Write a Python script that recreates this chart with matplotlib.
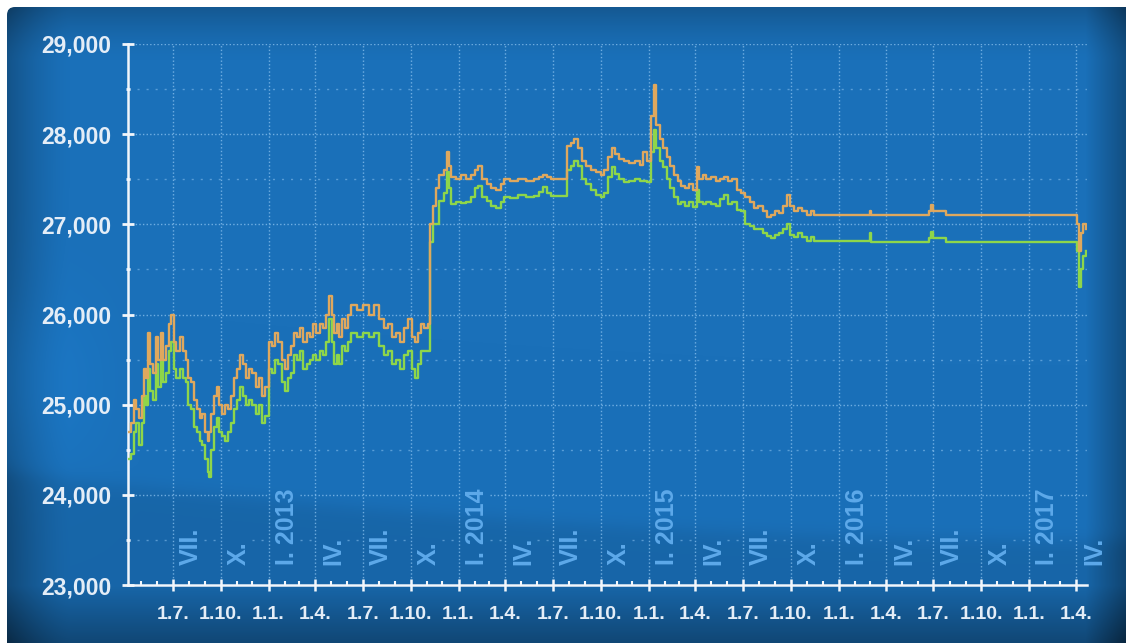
import numpy as np
import pandas as pd
import matplotlib
matplotlib.use("Agg")
import matplotlib.pyplot as plt
import matplotlib.dates as mdates
from matplotlib.patches import FancyBboxPatch
from matplotlib.ticker import MultipleLocator, FuncFormatter, FixedLocator
from matplotlib.transforms import offset_copy

# kurz prodej / nakup (dny kdy se kurz menil)
dates = [
    "2012-04-06", "2012-04-12", "2012-04-17", "2012-04-22", "2012-04-27",
    "2012-05-02", "2012-05-07", "2012-05-11", "2012-05-15", "2012-05-19",
    "2012-05-24", "2012-05-29", "2012-06-03", "2012-06-08", "2012-06-13",
    "2012-06-18", "2012-06-23", "2012-06-28", "2012-07-03", "2012-07-08",
    "2012-07-14", "2012-07-20", "2012-07-26", "2012-07-31", "2012-08-05",
    "2012-08-10", "2012-08-16", "2012-08-22", "2012-08-27", "2012-09-01",
    "2012-09-06", "2012-09-09", "2012-09-13", "2012-09-18", "2012-09-23",
    "2012-09-28", "2012-10-03", "2012-10-09", "2012-10-15", "2012-10-21",
    "2012-10-27", "2012-11-02", "2012-11-07", "2012-11-13", "2012-11-19",
    "2012-11-25", "2012-12-01", "2012-12-07", "2012-12-13", "2012-12-19",
    "2012-12-25",
    "2013-01-02", "2013-01-08", "2013-01-14", "2013-01-20", "2013-01-26",
    "2013-02-01", "2013-02-07", "2013-02-13", "2013-02-19", "2013-02-25",
    "2013-03-03", "2013-03-09", "2013-03-15", "2013-03-21", "2013-03-27",
    "2013-04-03", "2013-04-09", "2013-04-15", "2013-04-21", "2013-04-27",
    "2013-05-02", "2013-05-07", "2013-05-12", "2013-05-17", "2013-05-22",
    "2013-05-28", "2013-06-03", "2013-06-09", "2013-06-20", "2013-07-01",
    "2013-07-12", "2013-07-22", "2013-08-02", "2013-08-10", "2013-08-18",
    "2013-08-26", "2013-09-03", "2013-09-11", "2013-09-19", "2013-09-26",
    "2013-10-03", "2013-10-09", "2013-10-15", "2013-10-21", "2013-10-27",
    "2013-11-04", "2013-11-07", "2013-11-08", "2013-11-12", "2013-11-18",
    "2013-11-25", "2013-12-03", "2013-12-09", "2013-12-13", "2013-12-18",
    "2013-12-27",
    "2014-01-06", "2014-01-15", "2014-01-24", "2014-02-01", "2014-02-08",
    "2014-02-15", "2014-02-24", "2014-03-05", "2014-03-14", "2014-03-23",
    "2014-03-30", "2014-04-10", "2014-04-25", "2014-05-10", "2014-05-25",
    "2014-06-05", "2014-06-12", "2014-06-20", "2014-06-28", "2014-07-28",
    "2014-08-04", "2014-08-11", "2014-08-18", "2014-08-26", "2014-09-03",
    "2014-09-12", "2014-09-22", "2014-10-01", "2014-10-08", "2014-10-15",
    "2014-10-22", "2014-10-29", "2014-11-06", "2014-11-15", "2014-11-25",
    "2014-12-05", "2014-12-15", "2014-12-22", "2014-12-29",
    "2015-01-06", "2015-01-12", "2015-01-16", "2015-01-22", "2015-01-29",
    "2015-02-05", "2015-02-12", "2015-02-19", "2015-02-26", "2015-03-05",
    "2015-03-12", "2015-03-19", "2015-03-27", "2015-04-03", "2015-04-08",
    "2015-04-15", "2015-04-22", "2015-05-01", "2015-05-10", "2015-05-18",
    "2015-05-26", "2015-06-03", "2015-06-11", "2015-06-20", "2015-06-28",
    "2015-07-06", "2015-07-14", "2015-07-22", "2015-07-30", "2015-08-08",
    "2015-08-16", "2015-08-24", "2015-09-01", "2015-09-09", "2015-09-17",
    "2015-09-24", "2015-09-29", "2015-10-07", "2015-10-15", "2015-10-23",
    "2015-11-01", "2015-11-08", "2015-11-15",
    "2016-03-01", "2016-03-04", "2016-06-23", "2016-06-26", "2016-07-01",
    "2016-07-25",
    "2017-04-03", "2017-04-06", "2017-04-10", "2017-04-14", "2017-04-20",
]

sell = [
    24700, 24800, 25050, 24950, 24850,
    25100, 25400, 25300, 25800, 25450,
    25350, 25750, 25500, 25800, 25500,
    25650, 25900, 26000, 25700, 25600,
    25750, 25600, 25500, 25300, 25250,
    25050, 24950, 24850, 24900, 24700,
    24600, 24700, 24900, 25100, 25200,
    25000, 24900, 25000, 24950, 25100,
    25300, 25400, 25550, 25450, 25300,
    25400, 25350, 25200, 25300, 25100,
    25200,
    25700, 25650, 25800, 25700, 25500,
    25400, 25550, 25650, 25800, 25750,
    25850, 25700, 25800, 25750, 25900,
    25800, 25900, 25850, 26000, 26200,
    26000, 25800, 25900, 25750, 25950,
    25850, 26000, 26100, 26050, 26100,
    26000, 26100, 25950, 25850, 25900,
    25750, 25800, 25700, 25850, 25950,
    25750, 25700, 25800, 25900, 25850,
    25900, 26600, 27000, 27200, 27400,
    27550, 27600, 27800, 27650, 27530,
    27500,
    27550, 27500, 27550, 27600, 27650,
    27500, 27450, 27400, 27380, 27450,
    27500, 27480, 27500, 27480, 27500,
    27530, 27550, 27520, 27500, 27870,
    27900, 27950, 27850, 27700, 27650,
    27600, 27580, 27550, 27600, 27750,
    27850, 27780, 27720, 27700, 27680,
    27700, 27660, 27800, 27700,
    28200, 28550, 28100, 27950, 27850,
    27750, 27650, 27550, 27480, 27420,
    27400, 27450, 27380, 27640, 27500,
    27550, 27500, 27520, 27480, 27500,
    27520, 27480, 27500, 27380, 27350,
    27300, 27250, 27180, 27200, 27150,
    27080, 27100, 27150, 27130, 27200,
    27320, 27200, 27150, 27180, 27150,
    27100, 27150, 27100,
    27150, 27100, 27150, 27210, 27150,
    27100,
    27000, 26700, 26900, 27000, 26950,
]

buy = [
    24400, 24450, 24700, 24800, 24550,
    24800, 25100, 25000, 25400, 25150,
    25050, 25450, 25200, 25500, 25250,
    25350, 25600, 25700, 25400, 25300,
    25400, 25300, 25250, 25000, 24950,
    24750, 24700, 24600, 24550, 24400,
    24250, 24200, 24500, 24750, 24850,
    24700, 24650, 24600, 24700, 24800,
    24950, 25050, 25200, 25100, 25000,
    25050, 25000, 24900, 25000, 24800,
    24870,
    25400, 25350, 25500, 25450, 25250,
    25150, 25300, 25350, 25550, 25500,
    25600, 25400, 25450, 25500, 25550,
    25500, 25600, 25550, 25700, 25950,
    25700, 25450, 25550, 25450, 25650,
    25600, 25700, 25800, 25750, 25800,
    25750, 25800, 25650, 25550, 25600,
    25450, 25500, 25400, 25550, 25600,
    25400, 25300, 25450, 25600, 25600,
    25600, 26300, 26800, 27000, 27000,
    27260, 27350, 27580, 27400, 27220,
    27250,
    27240, 27250, 27300, 27400, 27420,
    27300, 27260, 27200, 27180, 27250,
    27300, 27290, 27320, 27300, 27310,
    27360, 27410, 27350, 27310, 27600,
    27650, 27700, 27650, 27500, 27450,
    27380, 27330, 27300, 27350, 27520,
    27640, 27560, 27500, 27470, 27480,
    27500, 27480, 27480, 27470,
    27800, 28050, 27850, 27700, 27640,
    27500, 27400, 27300, 27220, 27250,
    27200, 27250, 27190, 27380, 27250,
    27220, 27250, 27230, 27200, 27280,
    27320, 27230, 27250, 27160, 27150,
    27000, 26980, 26950, 26950, 26900,
    26870, 26850, 26880, 26900, 26950,
    27000, 26880, 26860, 26900, 26860,
    26810, 26860, 26810,
    26900, 26800, 26850, 26910, 26850,
    26800,
    26700, 26300, 26500, 26650, 26700,
]

quarter_names = ["VII.", "X.", "I. 2013", "IV.", "VII.", "X.", "I. 2014", "IV.",
                 "VII.", "X.", "I. 2015", "IV.", "VII.", "X.", "I. 2016", "IV.",
                 "VII.", "X.", "I. 2017", "IV."]
quarter_ticks = ["1.7.", "1.10.", "1.1.", "1.4."] * 5

W, H, DPI = 1126, 643, 100

# pozadi: modry gradient se ztmavenymi okraji a svetlejsim pasem
yy, xx = np.mgrid[0:H, 0:W].astype(float)
base = np.array([0x1a, 0x70, 0xb9]) / 255.0
shade = np.ones((H, W))
shade -= 0.30 * np.clip((70 - xx) / 70, 0, 1) ** 1.5
shade -= 0.30 * np.clip((xx - 1085) / 41, 0, 1)
shade -= 0.25 * np.clip((60 - yy) / 60, 0, 1) ** 1.5
shade -= 0.28 * np.clip((yy - 585) / 58, 0, 1)
curve = 470 + 70 * (1 - (1 - xx / W) ** 2)
shade -= 0.09 / (1 + np.exp(-(yy - curve) / 5))
shade += 0.10 * np.exp(-((yy - 380) / 90) ** 2) * np.clip((140 - xx) / 140, 0, 1)
img = np.clip(base[None, None, :] * shade[:, :, None], 0, 1)

fig = plt.figure(figsize=(W / DPI, H / DPI), dpi=DPI, facecolor="white")
bg = fig.add_axes([0, 0, 1, 1])
bg.set_xlim(0, W)
bg.set_ylim(H, 0)
bg.axis("off")
panel = FancyBboxPatch((7, 7), W + 20, H + 20, boxstyle="round,pad=0,rounding_size=8",
                       transform=bg.transData, facecolor="none", edgecolor="none")
bg.add_patch(panel)
im = bg.imshow(img, extent=[0, W, H, 0], aspect="auto", interpolation="bilinear")
im.set_clip_path(panel)

ax = fig.add_axes([128 / W, 1 - 585 / H, (1087 - 128) / W, (585 - 44) / H])
ax.set_facecolor("none")

x = pd.to_datetime(dates)
ax.step(x, buy, where="post", color="#8ed64a", lw=1.7, zorder=3)
ax.step(x, sell, where="post", color="#dfa85e", lw=1.7, zorder=4)

x0, x1 = pd.Timestamp("2012-04-06"), pd.Timestamp("2017-04-22")
ax.set_xlim(x0, x1)
ax.set_ylim(23000, 29000)

grid_col = "#8cc3f0"
ax.yaxis.set_major_locator(MultipleLocator(1000))
ax.yaxis.set_minor_locator(MultipleLocator(500))
ax.yaxis.set_major_formatter(FuncFormatter(lambda v, p: f"{v:,.0f}"))

qdates = pd.date_range("2012-07-01", "2017-04-01", freq="QS")
ax.xaxis.set_major_locator(FixedLocator(mdates.date2num(qdates)))
ax.xaxis.set_minor_locator(mdates.MonthLocator())
ax.set_xticklabels(quarter_ticks)

ax.grid(True, which="major", axis="x", color=grid_col, lw=1.0,
        linestyle=(0, (1, 1.6)), alpha=0.75, zorder=1)

# vodorovne mrizky, prerusene pod popisky ctvrtleti
gap = pd.Timedelta(days=60)
for level in range(23500, 29001, 500):
    if level == 23500:
        cuts = list(qdates)
    elif level == 24000:
        cuts = [d for d, n in zip(qdates, quarter_names) if n.startswith("I.")]
    else:
        cuts = []
    starts = [x0] + [c + gap for c in cuts]
    ends = list(cuts) + [x1]
    major = level % 1000 == 0
    for s, e in zip(starts, ends):
        if e <= s:
            continue
        ax.plot([s, e], [level, level], color=grid_col, lw=1.0,
                linestyle=(0, (1, 1.6)) if major else (0, (1.5, 5)),
                alpha=0.75 if major else 0.55, zorder=1)

for side in ["top", "right"]:
    ax.spines[side].set_visible(False)
for side in ["left", "bottom"]:
    ax.spines[side].set_color("#f2f6fb")
    ax.spines[side].set_linewidth(1.8)

ax.tick_params(axis="y", which="major", direction="inout", length=8, width=2,
               color="#f2f6fb", pad=8, labelsize=16.5, labelcolor="#e4edf7")
ax.tick_params(axis="y", which="minor", direction="inout", length=3, width=2,
               color="#f2f6fb")
ax.tick_params(axis="x", which="major", direction="inout", length=8, width=1.8,
               color="#f2f6fb", pad=11, labelsize=14, labelcolor="#e4edf7")
ax.tick_params(axis="x", which="minor", direction="in", length=3, width=1.5,
               color="#f2f6fb")
for lbl in ax.get_yticklabels() + ax.get_xticklabels():
    lbl.set_fontweight("bold")
    lbl.set_fontfamily("Liberation Sans")

# popisky ctvrtleti uvnitr grafu
lab_tr = offset_copy(ax.transData, fig=fig, x=6, y=0, units="dots")
for d, name in zip(qdates, quarter_names):
    ax.text(d, 23220, name, rotation=90, ha="left", va="bottom",
            color="#5da9ea", fontsize=18, fontweight="bold",
            fontfamily="Liberation Sans", transform=lab_tr, clip_on=False, zorder=2)

fig.savefig("out.png", dpi=DPI, facecolor="white")
